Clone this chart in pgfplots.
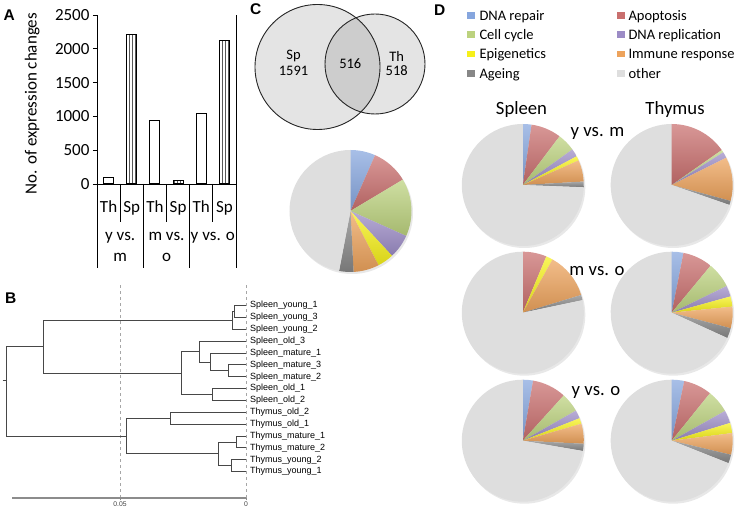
\documentclass[border=0pt]{standalone}
\usepackage{fontspec}
\setmainfont{Carlito}
\newfontfamily\helv{Liberation Sans}
\usepackage{pgfplots}
\pgfplotsset{compat=1.18}
\usetikzlibrary{patterns}

% category colours: DNA repair, Apoptosis, Cell cycle, DNA replication,
% Epigenetics, Immune response, Ageing, other
\definecolor{pc1}{HTML}{86A6DE}
\definecolor{pc2}{HTML}{C96F6E}
\definecolor{pc3}{HTML}{BCD27E}
\definecolor{pc4}{HTML}{9C8CC6}
\definecolor{pc5}{HTML}{F6F01A}
\definecolor{pc6}{HTML}{EDA35C}
\definecolor{pc7}{HTML}{878787}
\definecolor{pc8}{HTML}{DEDEDE}
\definecolor{venn}{HTML}{E4E4E4}
\definecolor{vennmid}{HTML}{CDCDCD}

% pie shares in percent, same order as the colours
\def\pieC{6.6,9.8,15.3,6.4,4.3,6.8,3.8,47.0}
\def\pieSym{2.3,8.0,4.8,2.1,1.2,5.7,1.5,74.4}
\def\pieTym{0,15.3,0.7,1.6,0,11.6,1.1,69.7}
\def\pieSmo{0,6.3,0,0,1.8,12.2,1.4,78.3}
\def\pieTmo{3.1,7.9,6.8,2.9,2.7,5.7,2.7,68.2}
\def\pieSyo{2.7,9.0,5.1,2.2,1.5,5.3,1.9,72.3}
\def\pieTyo{3.3,7.5,6.1,3.4,2.7,5.7,2.3,69.0}

\newcommand\fA{\fontsize{17}{20}\selectfont}
\newcommand\fL{\fontsize{14.5}{17}\selectfont}
\newcommand\fT{\fontsize{18.7}{22}\selectfont}
\newcommand\fB{\helv\fontsize{9}{10}\selectfont}
\newcommand\fBt{\helv\fontsize{6.8}{7}\selectfont}
\newcommand\fP{\helv\bfseries\fontsize{15.5}{17}\selectfont}

% pie centred at (#1,#2) in pixel units, radius #3, shares #4
\newcommand\drawpie[4]{%
  \fill[black!9] (axis cs:#1,#2) ++(1.5pt,-2pt) circle[radius=#3pt];
  \xdef\cum{0}%
  \foreach \v [count=\i] in #4 {%
    \pgfmathsetmacro\a{90-3.6*\cum}%
    \pgfmathsetmacro\b{\a-3.6*\v}%
    \edef\col{pc\i}%
    \ifdim\v pt>0pt
      \ifnum\i<8
        \shade[top color=\col!72!white, bottom color=\col!88!black]
          (axis cs:#1,#2) -- ++(\a:#3pt)
          arc[start angle=\a, end angle=\b, radius=#3pt] -- cycle;
      \else
        \fill[fill=\col] (axis cs:#1,#2) -- ++(\a:#3pt)
          arc[start angle=\a, end angle=\b, radius=#3pt] -- cycle;
      \fi
    \fi
    \pgfmathsetmacro\c{\cum+\v}\xdef\cum{\c}%
  }%
}

\tikzset{den/.style={draw=black!72, line width=0.9pt, mark=none}}

\begin{document}
\begin{tikzpicture}

% ---------------- A: bar chart
\begin{axis}[
  at={(97pt,326pt)}, anchor=south west, scale only axis,
  width=139pt, height=169pt,
  xmin=-0.5, xmax=5.5, ymin=0, ymax=2500,
  axis x line*=bottom, axis y line*=left,
  axis line style={line width=0.9pt},
  xtick=\empty,
  ytick={0,500,...,2500},
  tick align=outside, major tick length=4pt,
  tick style={line width=0.9pt, black},
  yticklabel={\pgfmathprintnumber[1000 sep={},assume math mode=true]{\tick}},
  yticklabel style={font=\fA},
  ybar, bar width=10pt, bar shift=0pt,
  clip=false,
]
\addplot[draw=black, fill=white, line width=1pt] coordinates {(0,90) (2,935) (4,1045)};
\addplot[draw=black, fill=white, line width=1pt,
  postaction={pattern=vertical lines, pattern color=black!65}]
  coordinates {(1,2215) (3,50) (5,2130)};
\pgfplotsextra{
  \draw[line width=0.9pt] (axis cs:5.5,0) -- (axis cs:5.5,2500);
  \foreach \x in {-0.5,1.5,3.5,5.5} \draw[line width=0.9pt] (axis cs:\x,0) -- ++(0pt,-84pt);
  \foreach \x in {0.5,2.5,4.5} \draw[line width=0.9pt] (axis cs:\x,0) -- ++(0pt,-38pt);
  \foreach \x/\t in {0/Th,1/Sp,2/Th,3/Sp,4/Th,5/Sp}
    \node[font=\fA, anchor=base, inner sep=0pt, yshift=-29pt] at (axis cs:\x,0) {\t};
  \node[font=\fA, anchor=base, inner sep=0pt, yshift=-57pt] at (axis cs:0.5,0) {y vs.};
  \node[font=\fA, anchor=base, inner sep=0pt, yshift=-78pt] at (axis cs:0.5,0) {m};
  \node[font=\fA, anchor=base, inner sep=0pt, yshift=-57pt] at (axis cs:2.5,0) {m vs.};
  \node[font=\fA, anchor=base, inner sep=0pt, yshift=-78pt] at (axis cs:2.5,0) {o};
  \node[font=\fA, anchor=base, inner sep=0pt, yshift=-57pt] at (axis cs:4.5,0) {y vs. o};
}
\end{axis}

% ---------------- B: dendrogram
\begin{axis}[
  at={(12pt,12pt)}, anchor=south west, scale only axis,
  width=234pt, height=215pt,
  xmin=-0.0929, xmax=0, ymin=-1.22, ymax=16.91,
  axis x line*=bottom, axis y line=none, ytick=\empty,
  scaled x ticks=false, scaled y ticks=false,
  x axis line style={line width=1.3pt, black!45},
  xtick={-0.05,0}, xticklabels={0.05,0},
  xtick style={black!45, line width=0.6pt},
  tick align=outside, major tick length=2.5pt,
  xticklabel style={font=\fBt, text=black!75, inner sep=0.6pt},
  xmajorgrids, grid style={dashed, black!35, line width=0.6pt},
  clip=false,
]
\addplot[den] coordinates {(0,15) (-0.0044,15) (-0.0044,14) (0,14)};
\addplot[den] coordinates {(-0.0044,14.5) (-0.0053,14.5) (-0.0053,13) (0,13)};
\addplot[den] coordinates {(0,10) (-0.0068,10) (-0.0068,9) (0,9)};
\addplot[den] coordinates {(0,11) (-0.0143,11) (-0.0143,9.5) (-0.0068,9.5)};
\addplot[den] coordinates {(0,12) (-0.0185,12) (-0.0185,10.25) (-0.0143,10.25)};
\addplot[den] coordinates {(0,8) (-0.0132,8) (-0.0132,7) (0,7)};
\addplot[den] coordinates {(-0.0185,11.125) (-0.0255,11.125) (-0.0255,7.5) (-0.0132,7.5)};
\addplot[den] coordinates {(-0.0053,13.75) (-0.0804,13.75) (-0.0804,9.3125) (-0.0255,9.3125)};
\addplot[den] coordinates {(0,6) (-0.0298,6) (-0.0298,5) (0,5)};
\addplot[den] coordinates {(0,4) (-0.0037,4) (-0.0037,3) (0,3)};
\addplot[den] coordinates {(0,2) (-0.0057,2) (-0.0057,1) (0,1)};
\addplot[den] coordinates {(-0.0037,3.5) (-0.0110,3.5) (-0.0110,1.5) (-0.0057,1.5)};
\addplot[den] coordinates {(-0.0298,5.5) (-0.0476,5.5) (-0.0476,2.5) (-0.0110,2.5)};
\addplot[den] coordinates {(-0.0804,11.53) (-0.0950,11.53) (-0.0950,4) (-0.0476,4)};
\addplot[den, line width=0.6pt] coordinates {(-0.0966,8.73) (-0.0954,8.73)};
\pgfplotsextra{
  \foreach \n [count=\i] in {Spleen\_young\_1,Spleen\_young\_3,Spleen\_young\_2,
      Spleen\_old\_3,Spleen\_mature\_1,Spleen\_mature\_3,Spleen\_mature\_2,
      Spleen\_old\_1,Spleen\_old\_2,Thymus\_old\_2,Thymus\_old\_1,
      Thymus\_mature\_1,Thymus\_mature\_2,Thymus\_young\_2,Thymus\_young\_1} {
    \pgfmathsetmacro\yy{16-\i}
    \node[font=\fB, anchor=west, inner sep=0pt, xshift=4pt] at (axis cs:0,\yy) {\n};
  }
}
\end{axis}

% ---------------- C and D: Venn diagram, pies, legend (pixel grid)
\begin{axis}[
  at={(0pt,0pt)}, anchor=south west, scale only axis,
  width=737pt, height=510pt,
  xmin=0, xmax=737, ymin=0, ymax=510, y dir=reverse,
  xtick=\empty, ytick=\empty,
  hide axis, clip=false,
]
\pgfplotsextra{
  % Venn
  \fill[venn] (axis cs:317.5,67) circle[radius=62.5pt];
  \fill[venn] (axis cs:375,64) circle[radius=50pt];
  \begin{scope}
    \clip (axis cs:317.5,67) circle[radius=62.5pt];
    \fill[vennmid] (axis cs:375,64) circle[radius=50pt];
  \end{scope}
  \draw[black!85, line width=0.9pt] (axis cs:317.5,67) circle[radius=62.5pt];
  \draw[black!85, line width=0.9pt] (axis cs:375,64) circle[radius=50pt];
  \node[font=\fL] at (axis cs:293.5,56) {Sp};
  \node[font=\fL] at (axis cs:293.5,71) {1591};
  \node[font=\fL] at (axis cs:350.3,63.7) {516};
  \node[font=\fL] at (axis cs:396.7,56) {Th};
  \node[font=\fL] at (axis cs:396.7,71) {518};
  % pies
  \drawpie{350.5}{211}{61}{\pieC}
  \drawpie{522.8}{185}{61}{\pieSym}
  \drawpie{671.7}{185}{61}{\pieTym}
  \drawpie{522.8}{312.7}{61}{\pieSmo}
  \drawpie{671.7}{312.7}{61}{\pieTmo}
  \drawpie{522.8}{440.7}{61}{\pieSyo}
  \drawpie{671.7}{440.7}{61}{\pieTyo}
  % titles
  \node[font=\fT, anchor=base, inner sep=0pt] at (axis cs:521.5,115) {Spleen};
  \node[font=\fT, anchor=base, inner sep=0pt] at (axis cs:675,115) {Thymus};
  \node[font=\fT, anchor=base, inner sep=0pt] at (axis cs:597.5,137) {y vs. m};
  \node[font=\fT, anchor=base, inner sep=0pt] at (axis cs:597,276) {m vs. o};
  \node[font=\fT, anchor=base, inner sep=0pt] at (axis cs:596,396) {y vs. o};
  % legend
  \foreach \r/\la/\ca/\lb/\cb in {0/DNA repair/pc1/Apoptosis/pc2,
      1/Cell cycle/pc3/DNA replication/pc4,
      2/Epigenetics/pc5/Immune response/pc6,
      3/Ageing/pc7/other/pc8} {
    \pgfmathsetmacro\yb{20.3+19.25*\r}
    \pgfmathsetmacro\yt{\yb-8.1}
    \pgfmathsetmacro\ybb{\yb-1.3}
    \fill[fill=\ca] (axis cs:467.3,\yt) rectangle (axis cs:475.3,\ybb);
    \fill[fill=\cb] (axis cs:616.7,\yt) rectangle (axis cs:624.7,\ybb);
    \node[font=\fL, anchor=base west, inner sep=0pt] at (axis cs:479.3,\yb) {\la};
    \node[font=\fL, anchor=base west, inner sep=0pt] at (axis cs:628.3,\yb) {\lb};
  }
  % panel letters and y label of A
  \node[font=\fP, anchor=base west, inner sep=0pt] at (axis cs:3.3,20.7) {A};
  \node[font=\fP, anchor=base west, inner sep=0pt] at (axis cs:5,304) {B};
  \node[font=\fP, anchor=base west, inner sep=0pt] at (axis cs:250,15) {C};
  \node[font=\fP, anchor=base west, inner sep=0pt] at (axis cs:434,16) {D};
  \node[font=\fA, rotate=90] at (axis cs:32.2,103.5) {No. of expression changes};
}
\end{axis}

\pgfresetboundingbox
\path (0,0) rectangle (737pt,510pt);
\end{tikzpicture}
\end{document}
